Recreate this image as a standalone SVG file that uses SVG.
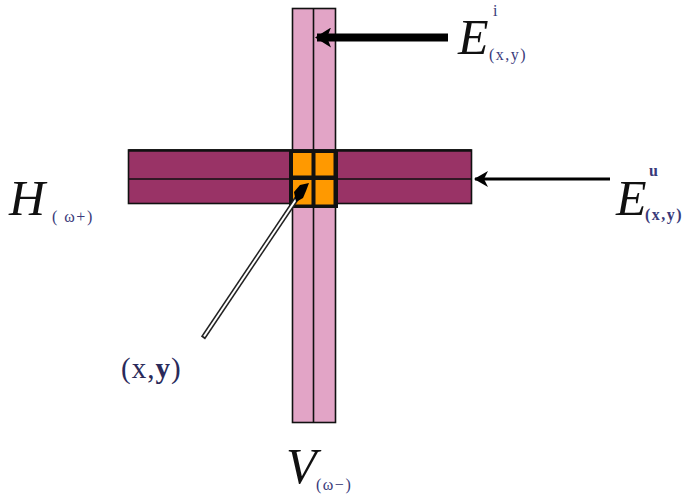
<svg xmlns="http://www.w3.org/2000/svg" width="687" height="497" viewBox="0 0 687 497">
<defs>
<style>
.vbar{fill:#e2a4c6;stroke:#111;stroke-width:1.6}
.hbar{fill:#993366;stroke:#111;stroke-width:1.6}
.sq{fill:#ff9900}
.big{font-family:"Liberation Serif",serif;font-style:italic;font-size:50px;fill:#111}
.sub{font-family:"Liberation Serif",serif;font-size:16px;fill:#3a3a7a;letter-spacing:1.5px}
.lab{font-family:"Liberation Serif",serif;font-size:29px;fill:#2a2a5a}
</style>
<marker id="headThick" markerUnits="userSpaceOnUse" viewBox="0 0 16 20" refX="14" refY="10" markerWidth="16" markerHeight="20" orient="auto">
<path d="M0,0 L16,10 L0,20 L4,10 Z" fill="#000"/>
</marker>
<marker id="headThin" markerUnits="userSpaceOnUse" viewBox="0 0 14 16" refX="13" refY="8" markerWidth="14" markerHeight="16" orient="auto">
<path d="M0,0 L14,8 L0,16 L4,8 Z" fill="#000"/>
</marker>
</defs>
<rect width="687" height="497" fill="#fff"/>
<g id="vertical-bar">
<rect class="vbar" x="292.5" y="8.5" width="43" height="414"/>
<line x1="313.5" y1="8.5" x2="313.5" y2="422.5" stroke="#111" stroke-width="1.6"/>
</g>
<g id="horizontal-bar">
<rect class="hbar" x="128.5" y="150" width="343" height="53.5"/>
<line x1="128.5" y1="150.5" x2="471.5" y2="150.5" stroke="#111" stroke-width="2.5"/>
<line x1="128.5" y1="179" x2="471.5" y2="179" stroke="#111" stroke-width="1.6"/>
</g>
<g id="center-block">
<rect x="289" y="150" width="49" height="58" fill="#111"/>
<rect class="sq" x="293" y="153" width="18.5" height="22.5"/>
<rect class="sq" x="315.5" y="153" width="18" height="22.5"/>
<rect class="sq" x="293" y="180" width="18.5" height="24.5"/>
<rect class="sq" x="315.5" y="180" width="18" height="24.5"/>
</g>
<g id="connectors">
<line x1="448" y1="37.5" x2="317" y2="37.5" stroke="#000" stroke-width="8" marker-end="url(#headThick)"/>
<line x1="610" y1="179" x2="475" y2="179" stroke="#000" stroke-width="3" marker-end="url(#headThin)"/>
<line x1="203" y1="338" x2="297" y2="198" stroke="#222" stroke-width="5"/>
<line x1="204" y1="336.5" x2="296" y2="199.5" stroke="#fff" stroke-width="2"/>
<path d="M309,183 L300,185 L294,192 L296,202 L303,198 L306,191 Z" fill="#000"/>
</g>
<g id="label-Ei">
<text class="big" x="458" y="54">E</text>
<text class="sub" x="493" y="16" font-size="12">i</text>
<text class="sub" x="489" y="60">(x,y)</text>
</g>
<g id="label-Eu">
<text class="big" x="616" y="215">E</text>
<text class="sub" x="649" y="176" font-size="13" font-weight="bold">u</text>
<text class="sub" x="645" y="220" font-size="14" font-weight="bold" letter-spacing="1">(x,y)</text>
</g>
<g id="label-H">
<text class="big" x="9" y="215">H</text>
<text class="sub" x="52" y="222">( ω+)</text>
</g>
<g id="label-V">
<text class="big" x="286" y="483">V</text>
<text class="sub" x="316" y="490">(ω−)</text>
</g>
<g id="label-xy">
<text class="lab" x="121" y="378" letter-spacing="1">(x,<tspan font-weight="bold">y</tspan>)</text>
</g>
</svg>
